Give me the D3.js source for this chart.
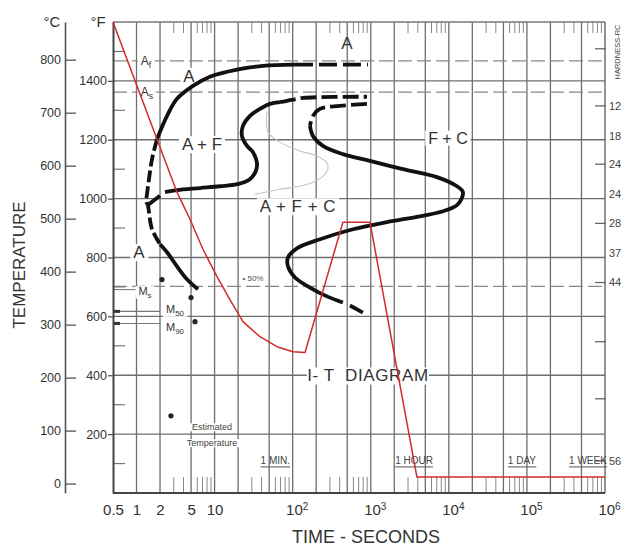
<!DOCTYPE html>
<html><head><meta charset="utf-8">
<script src="https://cdn.jsdelivr.net/npm/d3@7/dist/d3.min.js"></script>
<style>
html,body{margin:0;padding:0;background:#fff;}
svg{display:block;font-family:"Liberation Sans",Arial,sans-serif;}
</style></head><body>
<svg id="chart" width="628" height="549"></svg>
<script>
// ---------------- data ----------------
const timeTicks    = [0.5, 1, 2, 5, 10, 100, 1000, 10000, 100000, 1000000];
const timeTickBase = ["0.5","1","2","5","10","10","10","10","10","10"];
const timeTickExp  = ["","","","","","2","3","4","5","6"];
const timeGrid = [1,2,5,10,20,50,100,200,500,1000,2000,5000,10000,20000,50000,100000,200000,500000];
const tempFTicks = [200,400,600,800,1000,1200,1400];
const tempFMinor = [100,300,500,700,900,1100,1300,1500];
const tempCTicks = [0,100,200,300,400,500,600,700,800];
const solidTempLines  = [1400,1200,1000,800,600,400,200];
const dashedTempLines = [1468,1362,702];
const hardnessTicksF  = [1509,1315,1117,916,715,514,320,109];
const hardnessLabels  = ["12","18","24","24","28","37","44","56"];
const hardnessLabelF  = [1315,1213,1117,1015,916,814,715,109];
const timeMarks  = ["1 MIN.","1 HOUR","1 DAY","1 WEEK"];
const timeMarkT  = [60,3600,86400,604800];

// transformation curves: [time s, temp °F]
const ferriteStartSolid = [[1.83,1202],[2.46,1281],[3.30,1339],[5.29,1383],[8.73,1414],[19.4,1438],[41.7,1451],[107,1455]];
const ferriteStartDashTop = [[107,1455],[920,1455]];
const ferriteStartDashLow = [[1.83,1202],[1.58,1134],[1.445,1066],[1.362,1015],[1.33,990],[1.40,978],[1.445,954],[1.579,896],[2.0,845]];
const bainiteStart = [[2.0,845],[2.46,818],[3.30,770],[4.43,726],[6.13,692]];
const pearliteStartStub = [[1.40,978],[2.0,1010]];
const pearliteStart = [[2.317,1022],[3.30,1029],[6.5,1036],[11.7,1042],[19.4,1049],[28.4,1066],[34.9,1110],[31.0,1158],[26.0,1179],[22.4,1213],[23.1,1247],[28.4,1281],[38.1,1305],[51.2,1322],[68.8,1328]];
const pearliteStartDash = [[68.8,1328],[84.5,1332],[135.5,1342],[894,1346]];
const finishDash = [[894,1322],[403,1315],[223.6,1305],[181.9,1281],[166.5,1247]];
const finishSolid = [[166.5,1247],[181.9,1213],[244,1179],[440,1151],[976,1128],[2584,1100],[7039,1073],[12696,1042],[15150,1022],[13076,981],[8402,957],[4264,940],[1612,920],[592,896],[224,862],[113.5,831],[87,800],[87,770],[107,732],[166.5,698],[275,668],[440,647]];
const finishEnd = [[541,637],[794,613]];
const fiftyPct = [[46.9,1295],[48.3,1226],[68.8,1192],[124,1162],[205,1145],[275,1121],[283,1100],[237,1073],[144,1046],[68.8,1032],[32.9,1015]];
const cooling = [[0.5,1600],[1.83,1202],[3.30,1022],[4.84,930],[7.10,828],[10.7,736],[15.7,657],[23.1,582],[38.1,531],[62.9,497],[101,480],[144,477],[440,920],[977,920],[3904,54],[1000000,54]];
const starPoints = [[2.12,725],[4.99,664],[5.61,582],[2.76,262]];
const mLinesF  = [691,617,576];
const mLinesT  = [1.0,2.0,2.0];

// ---------------- scales ----------------
const svg = d3.select("#chart");
const x = d3.scaleLog().domain([0.5,1e6]).range([113,605]);
const y = d3.scaleLinear().domain([0,1600]).range([493,22]);
const yC = d3.scaleLinear().domain([(0-32)/1.8,(1600-32)/1.8]).range([493,22]);
const GRID = "#6e6e6e", TXT = "#333";
const fmt = d3.format("d");

// ---------------- grid ----------------
const grid = svg.append("g");
grid.selectAll(".vg").data(timeGrid).join("line")
  .attr("x1",d=>x(d)).attr("x2",d=>x(d)).attr("y1",y(1600)).attr("y2",y(0))
  .attr("stroke",GRID).attr("stroke-width",1.3);
grid.selectAll(".hg").data(solidTempLines).join("line")
  .attr("x1",x(0.5)).attr("x2",x(1e6)).attr("y1",d=>y(d)).attr("y2",d=>y(d))
  .attr("stroke",GRID).attr("stroke-width",1.4);
grid.selectAll(".hd").data(dashedTempLines).join("line")
  .attr("x1",x(0.5)).attr("x2",x(1e6)).attr("y1",d=>y(d)).attr("y2",d=>y(d))
  .attr("stroke","#888").attr("stroke-width",1.3).attr("stroke-dasharray","14,5");
// minor time ticks (top & bottom): 3,4,6,7,8,9 per decade from the log scale
const minor = x.ticks(80).filter(d => d >= 1 && d < 1e6 && !timeGrid.some(g => Math.abs(g - d) / g < 1e-6));
grid.selectAll(".mb").data(minor).join("line")
  .attr("x1",d=>x(d)).attr("x2",d=>x(d)).attr("y1",y(0)).attr("y2",y(0)-16)
  .attr("stroke","#888").attr("stroke-width",1);
grid.selectAll(".mt").data(minor).join("line")
  .attr("x1",d=>x(d)).attr("x2",d=>x(d)).attr("y1",y(1600)).attr("y2",y(1600)+11)
  .attr("stroke","#888").attr("stroke-width",1);
// minor F ticks inside left
grid.selectAll(".mf").data(tempFMinor).join("line")
  .attr("x1",x(0.5)).attr("x2",x(0.5)+12).attr("y1",d=>y(d)).attr("y2",d=>y(d))
  .attr("stroke","#777").attr("stroke-width",1.2);
// hardness ticks inside right
grid.selectAll(".hk").data(hardnessTicksF).join("line")
  .attr("x1",x(1e6)-10).attr("x2",x(1e6)+1).attr("y1",d=>y(d)).attr("y2",d=>y(d))
  .attr("stroke","#666").attr("stroke-width",1.3);
// M-lines at left
grid.selectAll(".ml").data(mLinesF).join("line")
  .attr("x1",x(0.5)).attr("x2",(d,i)=>x(mLinesT[i])).attr("y1",d=>y(d)).attr("y2",d=>y(d))
  .attr("stroke","#777").attr("stroke-width",1.1);
grid.selectAll(".ma").data(mLinesF.slice(1)).join("rect")
  .attr("x",x(0.5)+1).attr("y",d=>y(d)-1.5).attr("width",6).attr("height",3).attr("fill","#333");

// frame
svg.append("line").attr("x1",x(0.5)).attr("x2",x(1e6)).attr("y1",y(1600)).attr("y2",y(1600)).attr("stroke","#777").attr("stroke-width",1.3);
svg.append("line").attr("x1",x(1e6)).attr("x2",x(1e6)).attr("y1",y(1600)).attr("y2",y(0)).attr("stroke","#666").attr("stroke-width",1.4);
svg.append("line").attr("x1",x(0.5)).attr("x2",x(1e6)).attr("y1",y(0)).attr("y2",y(0)).attr("stroke","#444").attr("stroke-width",2);

// ---------------- axes ----------------
const gF = svg.append("g").attr("transform",`translate(${x(0.5)},0)`)
  .call(d3.axisLeft(y).tickValues(tempFTicks).tickFormat(fmt).tickSizeInner(5).tickSizeOuter(0).tickPadding(1));
gF.select(".domain").attr("stroke","#444").attr("stroke-width",2);
gF.selectAll(".tick line").attr("stroke","#555").attr("stroke-width",1.3);
gF.selectAll(".tick text").attr("font-size",12.5).attr("fill",TXT).attr("font-family","Liberation Sans, Arial, sans-serif");

const gC = svg.append("g").attr("transform","translate(65,0)")
  .call(d3.axisLeft(yC).tickValues(tempCTicks).tickFormat(fmt).tickSizeInner(-11).tickSizeOuter(0).tickPadding(4));
gC.select(".domain").attr("stroke","#555").attr("stroke-width",1.6);
gC.selectAll(".tick line").attr("stroke","#555").attr("stroke-width",1.3);
gC.selectAll(".tick text").attr("font-size",12.5).attr("fill",TXT).attr("font-family","Liberation Sans, Arial, sans-serif");

const gX = svg.append("g").attr("transform",`translate(0,${y(0)})`)
  .call(d3.axisBottom(x).tickValues(timeTicks).tickSize(0).tickPadding(11).tickFormat(()=>""));
gX.select(".domain").remove();
gX.selectAll(".tick text").attr("font-size",15).attr("fill",TXT).attr("font-family","Liberation Sans, Arial, sans-serif")
  .each(function(d,i){
    const t = d3.select(this);
    t.append("tspan").text(timeTickBase[i]);
    if (timeTickExp[i]) {
      t.attr("dx", 4);
      t.append("tspan").attr("font-size",10).attr("dy","-0.5em").text(timeTickExp[i]);
    }
  });

// hardness labels
svg.append("g").selectAll("text").data(hardnessLabels).join("text")
  .attr("x",x(1e6)+4).attr("y",(d,i)=>y(hardnessLabelF[i])).attr("dy","0.35em")
  .attr("font-size",11).attr("fill","#444").text(d=>d);
svg.append("text").attr("transform",`translate(${x(1e6)+12},52) rotate(-90)`)
  .attr("text-anchor","middle").attr("dy","0.35em").attr("font-size",7.5).attr("fill","#444").text("HARDNESS-RC");

// axis titles
svg.append("text").attr("x",52).attr("y",27).attr("text-anchor","middle").attr("font-size",15).attr("fill",TXT).text("°C");
svg.append("text").attr("x",98).attr("y",27).attr("text-anchor","middle").attr("font-size",15).attr("fill",TXT).text("°F");
svg.append("text").attr("transform","translate(19,265) rotate(-90)").attr("text-anchor","middle").attr("dy","0.35em")
  .attr("font-size",17).attr("fill",TXT).text("TEMPERATURE");
svg.append("text").attr("x",366).attr("y",543).attr("text-anchor","middle").attr("font-size",18).attr("fill",TXT).text("TIME - SECONDS");

// ---------------- labels ----------------
const lab = svg.append("g");
function addText(t, F, str, size, o = {}) {
  const el = lab.append("text").attr("x", x(t)).attr("y", y(F)).attr("dy", "0.35em")
    .attr("text-anchor", o.anchor || "middle").attr("font-size", size).attr("fill", o.fill || TXT);
  if (o.ls) el.attr("letter-spacing", o.ls);
  el.append("tspan").text(str);
  if (o.sub) el.append("tspan").attr("font-size", size * 0.72).attr("dy", "0.3em").text(o.sub);
  if (o.bg) {
    const b = el.node().getBBox();
    lab.insert("rect", () => el.node()).attr("x", b.x - 3).attr("y", b.y + 1).attr("width", b.width + 6).attr("height", b.height - 2).attr("fill", "#fff");
  }
  return el;
}
addText(495, 1529, "A", 17);
addText(4.70, 1417, "A", 17, {bg:true});
addText(6.90, 1185, "A + F", 17, {bg:true});
addText(9737, 1206, "F + C", 16, {bg:true});
addText(117, 974, "A + F + C", 17, {bg:true, ls:0.5});
addText(1.076, 818, "A", 17, {bg:true});
addText(920, 399, "I- T  DIAGRAM", 17, {bg:true, ls:0.6}).style("white-space","pre");
addText(1.32, 1468, "A", 12, {bg:true, sub:"f"});
addText(1.36, 1362, "A", 12, {bg:true, sub:"s"});
addText(1.284, 685, "M", 11, {bg:true, sub:"s"});
addText(3.11, 623, "M", 11, {bg:true, sub:"50"});
addText(3.11, 562, "M", 11, {bg:true, sub:"90"});
addText(31, 729, "• 50%", 8, {fill:"#555"});
addText(9.26, 224, "Estimated", 9, {bg:true, fill:"#444"});
addText(9.26, 170, "Temperature", 9, {bg:true, fill:"#444"});
timeMarks.forEach((m,i) => {
  const el = addText(timeMarkT[i], 109, m, 10, {fill:"#444"});
  const b = el.node().getBBox();
  lab.append("line").attr("x1", b.x).attr("x2", b.x + b.width).attr("y1", b.y + b.height + 0.5).attr("y2", b.y + b.height + 0.5)
    .attr("stroke", "#555").attr("stroke-width", 1);
});

// ---------------- curves ----------------
const line = d3.line().x(d => x(d[0])).y(d => y(d[1])).curve(d3.curveCatmullRom.alpha(0.5));
const lin  = d3.line().x(d => x(d[0])).y(d => y(d[1]));
const cg = svg.append("g").attr("fill","none").attr("stroke-linecap","butt");
cg.append("path").attr("d", line(fiftyPct)).attr("stroke","#c4c4c4").attr("stroke-width",1.1);
function curve(data, dash, w = 3.8) {
  const p = cg.append("path").attr("d", line(data)).attr("stroke", "#111").attr("stroke-width", w);
  if (dash) p.attr("stroke-dasharray", dash);
  return p;
}
curve(ferriteStartSolid);
curve(ferriteStartDashTop, "18,6");
curve(ferriteStartDashLow, "12,4");
curve(bainiteStart);
curve(pearliteStartStub);
curve(pearliteStart);
curve(pearliteStartDash, "16,5");
curve(finishDash, "16,5");
curve(finishSolid);
curve(finishEnd);

svg.append("g").selectAll("circle").data(starPoints).join("circle")
  .attr("cx", d => x(d[0])).attr("cy", d => y(d[1])).attr("r", 2.6).attr("fill", "#222");

// cooling curve
svg.append("path").attr("d", lin(cooling)).attr("fill","none").attr("stroke","#d42a2a").attr("stroke-width",1.5).attr("stroke-linejoin","round");
</script>
</body></html>
